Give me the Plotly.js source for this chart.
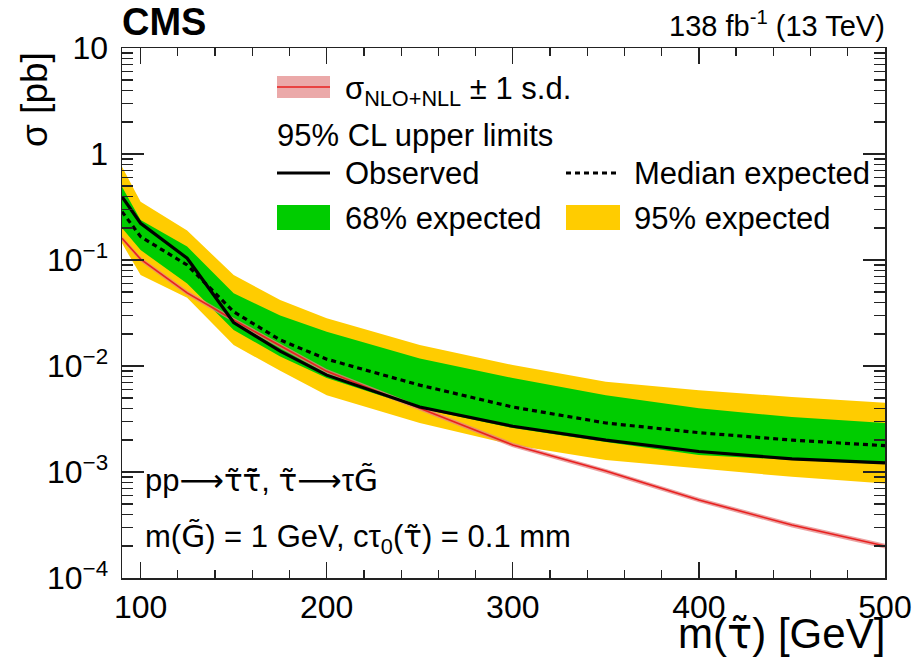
<!DOCTYPE html>
<html>
<head>
<meta charset="utf-8">
<script src="https://cdn.plot.ly/plotly-3.0.1.min.js"></script>
<style>html,body{margin:0;padding:0;background:#fff;}#chart{width:916px;height:658px;}</style>
</head>
<body>
<div id="chart"></div>
<script>
// ---- data ----
const masses    = [90, 100, 125, 150, 175, 200, 250, 300, 350, 400, 450, 500];
const observed  = [0.395, 0.222, 0.104, 0.0257, 0.0138, 0.0082, 0.0041, 0.0027, 0.0020, 0.00156, 0.00133, 0.00122];
const expected  = [0.286, 0.166, 0.0897, 0.0325, 0.0176, 0.0116, 0.0066, 0.0041, 0.0029, 0.00235, 0.0020, 0.00177];
const exp68Lo   = [0.200, 0.124, 0.060, 0.0219, 0.0123, 0.0077, 0.0040, 0.0026, 0.00192, 0.00145, 0.00130, 0.00119];
const exp68Hi   = [0.490, 0.238, 0.134, 0.0485, 0.0300, 0.0211, 0.0118, 0.0077, 0.0053, 0.0040, 0.0033, 0.0029];
const exp95Lo   = [0.144, 0.072, 0.044, 0.0158, 0.0090, 0.0053, 0.0029, 0.0018, 0.0013, 0.00108, 0.00090, 0.00078];
const exp95Hi   = [0.760, 0.355, 0.190, 0.072, 0.042, 0.0282, 0.0158, 0.0102, 0.0071, 0.0059, 0.0051, 0.0045];
const theory    = [0.160, 0.102, 0.049, 0.0272, 0.0155, 0.0089, 0.0040, 0.0018, 0.00102, 0.000545, 0.000316, 0.000200];
const theoryLo  = [0.152, 0.097, 0.0466, 0.0258, 0.0147, 0.00845, 0.0038, 0.00171, 0.00097, 0.000518, 0.000300, 0.000190];
const theoryHi  = [0.168, 0.107, 0.0515, 0.0286, 0.0163, 0.00935, 0.0042, 0.00189, 0.00107, 0.000572, 0.000332, 0.000210];

const xTicks = [100, 200, 300, 400, 500];
const yTicks = [1e-4, 1e-3, 1e-2, 1e-1, 1, 10];
const yTickText = ['10<sup>\u22124</sup>', '10<sup>\u22123</sup>', '10<sup>\u22122</sup>', '10<sup>\u22121</sup>', '1', '10'];

// ---- minor tick positions ----
const xMinor = [];
for (let v = 100; v <= 500; v += 20) xMinor.push(v);
const yMinor = [];
for (let e = -4; e < 1; e++) for (let k = 2; k <= 9; k++) yMinor.push(k * Math.pow(10, e));

// ---- layout geometry (pixels) ----
const W = 916, H = 658;
const L = 122, R = 885, T = 48, B = 578;
const px = x => (x - L) / (R - L);
const py = y => (B - y) / (B - T);

const FONT = 'Liberation Sans, Arial, Helvetica, sans-serif';
const black = '#000';

// glyphs with a combining accent, drawn in a font that positions combining marks
const acc = s => '<span style="font-family:DejaVu Sans">' + s + '</span>';
const TAU_T = acc('\u03C4\u0303');
const TAU_TB = acc('\u03C4\u0303\u0304');
const G_T = acc('G\u0303');
const ARROW = acc('\u27F6');

function band(lo, hi, color) {
  return [
    {x: masses, y: lo, mode: 'lines', line: {width: 0, color: color}, hoverinfo: 'skip', showlegend: false},
    {x: masses, y: hi, mode: 'lines', line: {width: 0, color: color}, fill: 'tonexty', fillcolor: color, hoverinfo: 'skip', showlegend: false}
  ];
}

const traces = [
  ...band(exp95Lo, exp95Hi, '#FFCC00'),
  ...band(exp68Lo, exp68Hi, '#00CC00'),
  ...band(theoryLo, theoryHi, 'rgba(228,130,130,0.75)'),
  {x: masses, y: theory, mode: 'lines', line: {color: '#E8201F', width: 1.6}, showlegend: false},
  {x: masses, y: expected, mode: 'lines', line: {color: black, width: 3.2, dash: '5px,4px'}, showlegend: false},
  {x: masses, y: observed, mode: 'lines', line: {color: black, width: 3.2}, showlegend: false}
];

const shapes = [
  {type: 'rect', xref: 'paper', yref: 'paper', x0: px(277), x1: px(330), y0: py(76), y1: py(98), fillcolor: '#EBA9A9', line: {width: 0}},
  {type: 'line', xref: 'paper', yref: 'paper', x0: px(277), x1: px(330), y0: py(87), y1: py(87), line: {color: '#E8201F', width: 1.6}},
  {type: 'line', xref: 'paper', yref: 'paper', x0: px(277), x1: px(330), y0: py(173), y1: py(173), line: {color: black, width: 3.2}},
  {type: 'line', xref: 'paper', yref: 'paper', x0: px(566), x1: px(620), y0: py(173), y1: py(173), line: {color: black, width: 3.2, dash: '5px,4px'}},
  {type: 'rect', xref: 'paper', yref: 'paper', x0: px(277), x1: px(330), y0: py(205), y1: py(230), fillcolor: '#00CC00', line: {width: 0}},
  {type: 'rect', xref: 'paper', yref: 'paper', x0: px(566), x1: px(620), y0: py(205), y1: py(230), fillcolor: '#FFCC00', line: {width: 0}}
];

function txt(text, x, y, size, opts) {
  return Object.assign({
    text: text, xref: 'paper', yref: 'paper', x: px(x), y: py(y),
    xanchor: 'left', yanchor: 'middle', showarrow: false,
    font: {family: FONT, size: size, color: black}
  }, opts || {});
}

const annotations = [
  txt('<b>CMS</b>', 120, 22, 38),
  txt('138 fb<sup>-1</sup> (13 TeV)', 887, 24, 29, {xanchor: 'right'}),
  txt('\u03C3<sub>NLO+NLL</sub> \u00B1 1 s.d.', 343, 91, 31),
  txt('95% CL upper limits', 275, 135, 31),
  txt('Observed', 343, 174, 31),
  txt('Median expected', 632, 174, 31),
  txt('68% expected', 343, 218, 31),
  txt('95% expected', 632, 218, 31),
  txt('pp' + ARROW + TAU_T + TAU_TB + ', ' + TAU_T + ARROW + '\u03C4' + G_T, 143, 480, 31),
  txt('m(' + G_T + ') = 1 GeV, c\u03C4<sub>0</sub>(' + TAU_T + ') = 0.1 mm', 143, 538, 31),
  txt('m(' + TAU_T + ') [GeV]', 887, 633, 42, {xanchor: 'right'}),
  txt('\u03C3 [pb]', 35, 100, 37, {xanchor: 'center', textangle: -90})
];

const axisCommon = {
  showgrid: false, zeroline: false, showline: true, linecolor: '#222', linewidth: 1.5,
  mirror: 'allticks', ticks: 'inside', tickcolor: '#222', tickwidth: 1.3,
  tickfont: {family: FONT, size: 32, color: black}
};

const layout = {
  width: W, height: H,
  margin: {l: L, r: W - R, t: T, b: H - B, pad: 0},
  paper_bgcolor: '#fff', plot_bgcolor: '#fff',
  showlegend: false,
  xaxis: Object.assign({}, axisCommon, {
    range: [90, 500], tickmode: 'array', tickvals: xTicks, ticklen: 16,
    ticklabelstandoff: 0,
    minor: {tickmode: 'array', tickvals: xMinor, ticks: 'inside', ticklen: 8, tickcolor: '#222', tickwidth: 1.3}
  }),
  yaxis: Object.assign({}, axisCommon, {
    type: 'log', range: [-4, 1], tickmode: 'array', tickvals: yTicks, ticktext: yTickText, ticklen: 22,
    ticklabelstandoff: 6,
    minor: {tickmode: 'array', tickvals: yMinor, ticks: 'inside', ticklen: 11, tickcolor: '#222', tickwidth: 1.3}
  }),
  shapes: shapes,
  annotations: annotations
};

Plotly.newPlot('chart', traces, layout, {staticPlot: true, displayModeBar: false});
</script>
</body>
</html>
